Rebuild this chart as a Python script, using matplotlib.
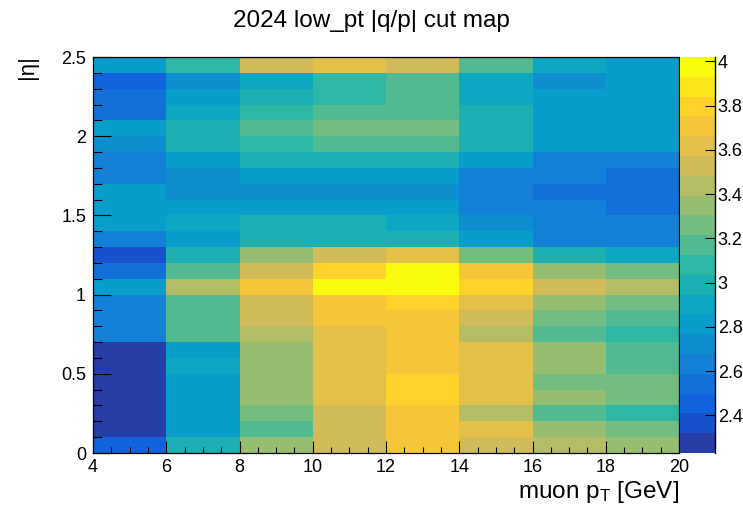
import numpy as np
import matplotlib
matplotlib.use("Agg")
import matplotlib.pyplot as plt
from matplotlib.colors import LinearSegmentedColormap, ListedColormap, BoundaryNorm
from matplotlib.ticker import MultipleLocator, FuncFormatter

plt.rcParams['font.family'] = ['Liberation Sans', 'DejaVu Sans']
plt.rcParams['mathtext.fontset'] = 'custom'
plt.rcParams['mathtext.rm'] = 'Liberation Sans'
plt.rcParams['mathtext.it'] = 'Liberation Sans:italic'

# ---- data ----
pt_edges = [4, 6, 8, 10, 12, 14, 16, 18, 20]
eta_edges = [round(0.1 * i, 1) for i in range(26)]

# cut values per pT bin, from |eta| = 0 upward (25 bins of 0.1)
pt_4_6 = [2.45, 2.27, 2.27, 2.23, 2.27, 2.27, 2.27, 2.63, 2.63, 2.63, 2.81, 2.54, 2.36,
          2.63, 2.81, 2.81, 2.81, 2.63, 2.63, 2.72, 2.81, 2.54, 2.54, 2.45, 2.81]
pt_6_8 = [2.99, 2.81, 2.81, 2.81, 2.81, 2.90, 2.81, 3.17, 3.17, 3.17, 3.44, 3.17, 2.99,
          2.81, 2.90, 2.81, 2.72, 2.72, 2.81, 2.99, 2.99, 2.90, 2.81, 2.72, 3.08]
pt_8_10 = [3.35, 3.17, 3.26, 3.35, 3.35, 3.35, 3.35, 3.44, 3.53, 3.53, 3.71, 3.53, 3.35,
           2.99, 2.99, 2.81, 2.72, 2.81, 2.99, 3.08, 3.17, 3.08, 2.99, 2.90, 3.53]
pt_10_12 = [3.53, 3.53, 3.53, 3.62, 3.62, 3.62, 3.62, 3.62, 3.71, 3.71, 4.02, 3.80, 3.53,
            2.99, 2.99, 2.81, 2.72, 2.81, 2.99, 3.17, 3.26, 3.17, 3.08, 3.08, 3.62]
pt_12_14 = [3.71, 3.71, 3.71, 3.80, 3.80, 3.71, 3.71, 3.71, 3.71, 3.80, 3.98, 3.98, 3.62,
            2.99, 2.90, 2.81, 2.72, 2.81, 2.99, 3.17, 3.26, 3.17, 3.17, 3.17, 3.53]
pt_14_16 = [3.53, 3.62, 3.44, 3.62, 3.62, 3.62, 3.62, 3.44, 3.53, 3.62, 3.80, 3.71, 3.26,
            2.81, 2.72, 2.63, 2.63, 2.63, 2.81, 2.99, 2.99, 2.99, 2.90, 2.90, 3.17]
pt_16_18 = [3.44, 3.35, 3.17, 3.35, 3.26, 3.35, 3.35, 3.17, 3.26, 3.35, 3.53, 3.35, 2.99,
            2.63, 2.63, 2.63, 2.54, 2.63, 2.63, 2.81, 2.81, 2.81, 2.81, 2.72, 2.90]
pt_18_20 = [3.35, 3.26, 3.08, 3.26, 3.26, 3.17, 3.17, 3.08, 3.17, 3.26, 3.44, 3.26, 2.90,
            2.63, 2.63, 2.54, 2.54, 2.54, 2.63, 2.81, 2.81, 2.81, 2.81, 2.81, 2.81]

cbar_ticks = [2.4, 2.6, 2.8, 3.0, 3.2, 3.4, 3.6, 3.8, 4.0]

Z = np.array([pt_4_6, pt_6_8, pt_8_10, pt_10_12, pt_12_14, pt_14_16, pt_16_18, pt_18_20]).T

# ---- ROOT kBird palette, 20 contours ----
stops = [0.0, 0.125, 0.25, 0.375, 0.5, 0.625, 0.75, 0.875, 1.0]
red = [0.2082, 0.0592, 0.0780, 0.0232, 0.1802, 0.5301, 0.8186, 0.9956, 0.9764]
green = [0.1664, 0.3599, 0.5041, 0.6419, 0.7178, 0.7492, 0.7328, 0.7862, 0.9832]
blue = [0.5293, 0.8684, 0.8385, 0.7914, 0.6425, 0.4662, 0.3499, 0.1968, 0.0539]
bird = LinearSegmentedColormap.from_list(
    'bird', [(s, (r, g, b)) for s, r, g, b in zip(stops, red, green, blue)], N=255)
ncont = 20
cols = [bird(int((i + 0.99) * 255 / ncont) / 254.0) for i in range(ncont)]
cmap = ListedColormap(cols)
zmin, zmax = Z.min(), Z.max()
levels = np.linspace(zmin, zmax, ncont + 1)
norm = BoundaryNorm(levels, ncont)

W, H = 743, 511
fig = plt.figure(figsize=(W / 100, H / 100), dpi=100)
L, R, T, B = 93, 679, 57, 453
ax = fig.add_axes([L / W, 1 - B / H, (R - L) / W, (B - T) / H])
mesh = ax.pcolormesh(pt_edges, eta_edges, Z, cmap=cmap, norm=norm)
ax.set_xlim(4, 20)
ax.set_ylim(0, 2.5)

gfmt = FuncFormatter(lambda v, p: f'{v:g}')
ax.xaxis.set_major_locator(MultipleLocator(2))
ax.xaxis.set_minor_locator(MultipleLocator(0.5))
ax.yaxis.set_major_locator(MultipleLocator(0.5))
ax.yaxis.set_minor_locator(MultipleLocator(0.1))
ax.xaxis.set_major_formatter(gfmt)
ax.yaxis.set_major_formatter(gfmt)
ax.tick_params(axis='x', which='major', direction='in', length=8.3, width=0.8, labelsize=13, pad=4)
ax.tick_params(axis='x', which='minor', direction='in', length=4.3, width=0.8)
ax.tick_params(axis='y', which='major', direction='in', length=12.7, width=0.8, labelsize=13, pad=5)
ax.tick_params(axis='y', which='minor', direction='in', length=6.3, width=0.8)
for s in ax.spines.values():
    s.set_linewidth(0.9)

fig.text(R / W, 1 - 498 / H, r'muon p$_{\mathrm{T}}$ [GeV]', ha='right', va='baseline', fontsize=17.5)
fig.text(28 / W, 1 - 55 / H, '|η|', ha='center', va='top', rotation=90, fontsize=16)
fig.text(371 / W, 1 - 21 / H, '2024 low_pt |q/p| cut map', ha='center', va='center', fontsize=17.5)

# colorbar
cax = fig.add_axes([680 / W, 1 - B / H, 35 / W, (B - T) / H])
cb = fig.colorbar(mesh, cax=cax, ticks=cbar_ticks, spacing='proportional')
cb.outline.set_visible(False)
cax.plot([1, 1], [0, 1], transform=cax.transAxes, color='black', lw=1.0, clip_on=False)
cax.yaxis.set_ticks_position('right')
cax.yaxis.set_major_formatter(gfmt)
cax.tick_params(axis='y', which='major', direction='in', length=7, width=0.8, labelsize=13, pad=2)
cax.minorticks_off()

fig.savefig('out.png', dpi=100)
